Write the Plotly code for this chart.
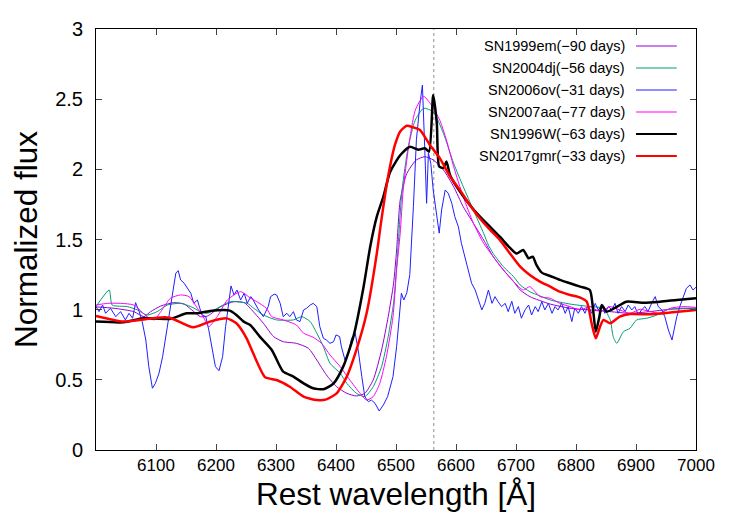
import plotly.graph_objects as go

# ---------------- data ----------------
sn1999em_x = [6000, 6030, 6063, 6080, 6091, 6108, 6130, 6147, 6163, 6174, 6186, 6208, 6230, 6247, 6257,
              6279, 6296, 6312, 6334, 6354, 6368, 6384, 6401, 6418, 6434, 6448, 6462, 6476, 6487, 6496,
              6501, 6507, 6518, 6534, 6548, 6562, 6579, 6596, 6612, 6629, 6646, 6662, 6679, 6696, 6707,
              6723, 6757, 6790, 6823, 6857, 6890, 6923, 6957, 7000]
sn1999em_y = [1.02, 1.01, 0.986, 0.95, 0.986, 1.026, 1.05, 1.04, 0.986, 0.95, 0.955, 1.022, 1.057, 1.05, 1.01,
              0.903, 0.808, 0.772, 0.76, 0.725, 0.641, 0.535, 0.451, 0.404, 0.385, 0.404, 0.499, 0.713, 0.95, 1.188,
              1.425, 1.78, 1.97, 2.067, 2.09, 2.067, 1.996, 1.877, 1.734, 1.616, 1.497, 1.378, 1.283, 1.2, 1.14,
              1.093, 1.04, 1.01, 0.998, 0.986, 0.974, 0.986, 1.003, 1.01]

sn2004dj_x = [6000, 6022, 6027, 6052, 6069, 6085, 6102, 6119, 6141, 6158, 6174, 6186, 6202, 6224, 6252,
              6263, 6279, 6301, 6329, 6343, 6357, 6368, 6379, 6390, 6407, 6418, 6434, 6448, 6462, 6476,
              6487, 6496, 6503, 6510, 6520, 6532, 6546, 6562, 6579, 6596, 6612, 6629, 6646, 6654, 6662,
              6679, 6696, 6707, 6723, 6740, 6757, 6790, 6823, 6846, 6857, 6862, 6868, 6879, 6890, 6901,
              6918, 6935, 6951, 6973, 7000]
sn2004dj_y = [1.022, 1.14, 1.033, 1.022, 0.998, 0.962, 0.986, 1.033, 1.045, 1.022, 0.986, 0.974, 1.01, 1.057, 1.045,
              1.01, 0.962, 0.927, 0.927, 0.95, 0.915, 0.832, 0.736, 0.618, 0.547, 0.475, 0.404, 0.38, 0.451, 0.594,
              0.808, 1.05, 1.425, 1.85, 2.15, 2.35, 2.435, 2.41, 2.257, 2.043, 1.877, 1.71, 1.545, 1.46, 1.40,
              1.306, 1.235, 1.176, 1.128, 1.098, 1.069, 1.04, 1.022, 1.01, 0.927, 0.808, 0.76, 0.843, 0.867, 0.927,
              0.939, 0.962, 0.998, 1.01, 1.01]

sn2006ov_x = [6000, 6005, 6011, 6016, 6024, 6033, 6041, 6049, 6055, 6061, 6066, 6072, 6077, 6083, 6088,
              6094, 6099, 6105, 6111, 6116, 6122, 6127, 6133, 6137, 6141, 6147, 6152, 6158, 6163, 6169,
              6173, 6177, 6183, 6188, 6194, 6199, 6205, 6211, 6216, 6222, 6225, 6230, 6235, 6241, 6247,
              6252, 6258, 6262, 6271, 6279, 6287, 6291, 6297, 6301, 6307, 6312, 6318, 6323, 6329, 6334,
              6340, 6346, 6351, 6357, 6362, 6368, 6373, 6379, 6384, 6390, 6396, 6400, 6406, 6409, 6415,
              6421, 6426, 6432, 6437, 6443, 6448, 6454, 6459, 6465, 6472, 6479, 6486, 6495, 6501, 6509,
              6513, 6518, 6523, 6529, 6534, 6540, 6544, 6548, 6551, 6554, 6558, 6562, 6568, 6572, 6576,
              6582, 6587, 6593, 6598, 6604, 6609, 6615, 6620, 6626, 6632, 6637, 6643, 6648, 6654, 6660,
              6665, 6670, 6676, 6682, 6687, 6693, 6698, 6704, 6709, 6715, 6721, 6726, 6732, 6737, 6743,
              6748, 6754, 6760, 6765, 6770, 6776, 6782, 6787, 6793, 6798, 6804, 6809, 6815, 6820, 6826,
              6832, 6837, 6843, 6848, 6854, 6860, 6865, 6870, 6876, 6882, 6887, 6893, 6898, 6904, 6909,
              6915, 6920, 6926, 6932, 6937, 6943, 6948, 6954, 6960, 6963, 6968, 6973, 6979, 6984, 6990,
              6995, 7000]
sn2006ov_y = [1.022, 0.986, 1.033, 0.974, 1.01, 0.95, 0.986, 0.927, 0.974, 0.939, 1.05, 0.986, 0.915, 0.784, 0.594,
              0.44, 0.475, 0.547, 0.665, 0.808, 0.974, 1.117, 1.26, 1.278, 1.212, 1.188, 1.152, 1.117, 1.045, 1.069,
              1.01, 0.962, 0.95, 0.855, 0.713, 0.594, 0.565, 0.665, 0.879, 1.093, 1.169, 1.105, 1.14, 1.069, 1.117,
              1.045, 1.093, 1.069, 0.998, 0.95, 1.022, 1.093, 1.11, 1.105, 1.045, 0.95, 0.974, 0.95, 0.986, 0.927,
              0.915, 0.998, 1.01, 1.033, 1.045, 1.022, 0.879, 0.796, 0.784, 0.76, 0.772, 0.82, 0.808, 0.736, 0.641,
              0.70, 0.796, 0.832, 0.713, 0.523, 0.38, 0.344, 0.356, 0.333, 0.278, 0.321, 0.38, 0.523, 0.736, 1.117,
              1.069, 1.12, 1.25, 1.734, 2.21, 2.47, 2.60, 2.138, 1.758, 2.115, 2.043, 1.853, 1.663, 1.545, 1.71,
              1.853, 1.83, 1.758, 1.663, 1.59, 1.473, 1.378, 1.283, 1.188, 1.14, 1.069, 0.998, 1.045, 1.14, 1.045,
              1.093, 1.057, 1.022, 1.045, 0.986, 1.06, 0.974, 1.022, 0.939, 0.998, 1.033, 0.962, 1.022, 0.986, 1.057,
              0.998, 1.045, 0.974, 1.022, 0.998, 1.045, 0.974, 1.022, 0.915, 1.01, 0.974, 1.022, 0.974, 1.033, 0.974,
              1.045, 0.998, 1.033, 0.974, 1.022, 0.998, 1.045, 0.974, 1.022, 0.986, 1.033, 0.998, 1.022, 0.962, 0.998,
              1.022, 0.986, 1.045, 1.093, 1.022, 0.998, 0.95, 0.855, 0.784, 0.855, 0.95, 1.022, 1.093, 1.152, 1.176,
              1.14, 1.16]

sn2007aa_x = [6000, 6019, 6041, 6063, 6085, 6097, 6108, 6124, 6141, 6155, 6169, 6180, 6188, 6202, 6219,
              6241, 6258, 6268, 6284, 6293, 6312, 6334, 6346, 6362, 6376, 6390, 6407, 6423, 6440, 6451,
              6462, 6473, 6484, 6495, 6501, 6507, 6512, 6521, 6532, 6546, 6557, 6573, 6584, 6596, 6612,
              6629, 6646, 6662, 6679, 6696, 6712, 6723, 6740, 6757, 6773, 6790, 6807, 6823, 6840, 6857,
              6873, 6890, 6907, 6923, 6940, 6957, 6979, 7000]
sn2007aa_y = [1.033, 1.045, 1.045, 1.033, 0.95, 0.927, 0.986, 1.081, 1.105, 1.093, 1.01, 0.939, 0.879, 0.95, 1.069,
              1.128, 1.081, 1.057, 1.01, 0.95, 0.927, 0.891, 0.832, 0.803, 0.76, 0.677, 0.594, 0.499, 0.404, 0.356,
              0.38, 0.475, 0.665, 0.95, 1.283, 1.545, 1.853, 2.16, 2.42, 2.52, 2.47, 2.35, 2.21, 2.02, 1.805,
              1.616, 1.473, 1.378, 1.283, 1.2, 1.14, 1.164, 1.093, 1.081, 1.045, 1.022, 0.998, 1.022, 0.986, 1.022,
              0.998, 0.974, 1.003, 0.986, 0.974, 1.01, 1.022, 1.016]

sn1996w_x = [6000, 6046, 6079, 6123, 6151, 6168, 6190, 6223, 6234, 6246, 6257, 6273, 6293, 6304, 6312,
             6329, 6346, 6362, 6379, 6396, 6412, 6429, 6446, 6457, 6468, 6479, 6490, 6507, 6523, 6537,
             6548, 6555, 6562, 6568, 6572, 6579, 6584, 6590, 6601, 6623, 6640, 6657, 6673, 6690, 6701,
             6712, 6721, 6728, 6734, 6743, 6757, 6773, 6790, 6807, 6823, 6828, 6833, 6839, 6843, 6851,
             6868, 6884, 6912, 6940, 6968, 7000]
sn1996w_y = [0.915, 0.91, 0.939, 0.934, 0.974, 0.974, 0.991, 0.993, 0.962, 0.915, 0.891, 0.808, 0.713, 0.618, 0.558,
             0.523, 0.475, 0.44, 0.433, 0.475, 0.594, 0.808, 1.164, 1.449, 1.663, 1.805, 1.98, 2.10, 2.16, 2.14,
             2.15, 2.126, 2.53, 2.33, 2.02, 2.01, 2.055, 1.96, 1.877, 1.746, 1.663, 1.59, 1.52, 1.44, 1.40,
             1.425, 1.366, 1.378, 1.319, 1.264, 1.24, 1.212, 1.188, 1.164, 1.14, 1.02, 0.843, 0.95, 1.033, 0.986,
             1.02, 1.057, 1.05, 1.057, 1.069, 1.081]

sn2017gmr_x = [6000, 6046, 6101, 6123, 6162, 6190, 6218, 6234, 6251, 6262, 6282, 6301, 6323, 6346, 6368,
               6384, 6401, 6418, 6434, 6451, 6468, 6475, 6483, 6490, 6498, 6507, 6518, 6528, 6540, 6557,
               6573, 6590, 6607, 6623, 6640, 6657, 6673, 6690, 6707, 6723, 6740, 6757, 6773, 6790, 6807,
               6818, 6826, 6833, 6840, 6846, 6857, 6873, 6890, 6923, 6957, 7000]
sn2017gmr_y = [0.955, 0.915, 0.943, 0.943, 0.874, 0.915, 0.938, 0.903, 0.796, 0.689, 0.518, 0.499, 0.451, 0.380, 0.356,
               0.361, 0.404, 0.523, 0.713, 0.974, 1.40, 1.62, 1.85, 2.02, 2.17, 2.27, 2.31, 2.30, 2.28, 2.17,
               2.08, 1.95, 1.85, 1.746, 1.65, 1.568, 1.497, 1.40, 1.306, 1.247, 1.20, 1.164, 1.128, 1.105, 1.086,
               1.057, 0.903, 0.796, 0.879, 0.927, 0.903, 0.950, 0.969, 0.967, 0.979, 0.998]

series_names = ["SN1999em(\u221290 days)", "SN2004dj(\u221256 days)", "SN2006ov(\u221231 days)",
                "SN2007aa(\u221277 days)", "SN1996W(\u221263 days)", "SN2017gmr(\u221233 days)"]
series_x = [sn1999em_x, sn2004dj_x, sn2006ov_x, sn2007aa_x, sn1996w_x, sn2017gmr_x]
series_y = [sn1999em_y, sn2004dj_y, sn2006ov_y, sn2007aa_y, sn1996w_y, sn2017gmr_y]

x_tick_vals = [6100, 6200, 6300, 6400, 6500, 6600, 6700, 6800, 6900, 7000]
y_tick_vals = [0, 0.5, 1, 1.5, 2, 2.5, 3]
y_tick_text = ["0", "0.5", "1", "1.5", "2", "2.5", "3"]
halpha = 6563

# ---------------- styles ----------------
colors = ["#9400d3", "#009e73", "#1f1fff", "#ff00ff", "#000000", "#ff0000"]
widths = [1, 1, 1, 1, 2.5, 2.5]
shapes_ = ["spline", "spline", "linear", "spline", "spline", "spline"]
FONT = "Liberation Sans, Arial, Helvetica, sans-serif"

fig = go.Figure()
for name, xs, ys, c, w, sh in zip(series_names, series_x, series_y, colors, widths, shapes_):
    fig.add_trace(go.Scatter(x=xs, y=ys, mode="lines", name=name,
                             line=dict(color=c, width=w, shape=sh, smoothing=0.6),
                             showlegend=False, hoverinfo="skip"))

# H-alpha dotted reference line
fig.add_shape(type="line", x0=halpha, x1=halpha, xref="x", y0=0, y1=1, yref="paper",
              line=dict(color="#909090", width=1, dash="dot"), layer="below")

# custom legend: text right-aligned, sample line on the right
leg_top_px = 46
leg_step_px = 22
plot_top, plot_h = 29, 421
for i, (name, c, w) in enumerate(zip(series_names, colors, widths)):
    ypx = leg_top_px + i * leg_step_px
    yp = 1 - (ypx - plot_top) / plot_h
    fig.add_annotation(x=0.885, y=yp, xref="paper", yref="paper", text=name, showarrow=False,
                       xanchor="right", yanchor="middle", font=dict(family=FONT, size=14.5, color="#000"))
    fig.add_shape(type="line", x0=0.9, x1=0.968, xref="paper", y0=yp, y1=yp, yref="paper",
                  line=dict(color=c, width=w * 0.8 if w > 1 else 1))

# the page body has an 8px margin, so the figure is 8px smaller and margins shifted
fig.update_layout(
    width=739, height=515,
    margin=dict(l=88, r=51, t=21, b=73),
    plot_bgcolor="white", paper_bgcolor="white",
    font=dict(family=FONT, color="black"),
)
fig.update_xaxes(range=[6000, 7000], tickvals=x_tick_vals, ticks="inside", ticklen=6, tickcolor="#444",
                 mirror="allticks", showline=True, linecolor="black", linewidth=1, showgrid=False, zeroline=False,
                 automargin=False, tickfont=dict(family=FONT, size=17),
                 title=dict(text="Rest wavelength [\u00c5]", font=dict(family=FONT, size=31.5), standoff=8))
fig.update_yaxes(range=[0, 3], tickvals=y_tick_vals, ticktext=y_tick_text, ticks="inside", ticklen=6,
                 tickcolor="#444", mirror="allticks", showline=True, linecolor="black", linewidth=1,
                 showgrid=False, zeroline=False, ticklabelstandoff=8, automargin=False,
                 tickfont=dict(family=FONT, size=20),
                 title=dict(text="Normalized flux", font=dict(family=FONT, size=31.5), standoff=10))

fig.write_html("out.html")
